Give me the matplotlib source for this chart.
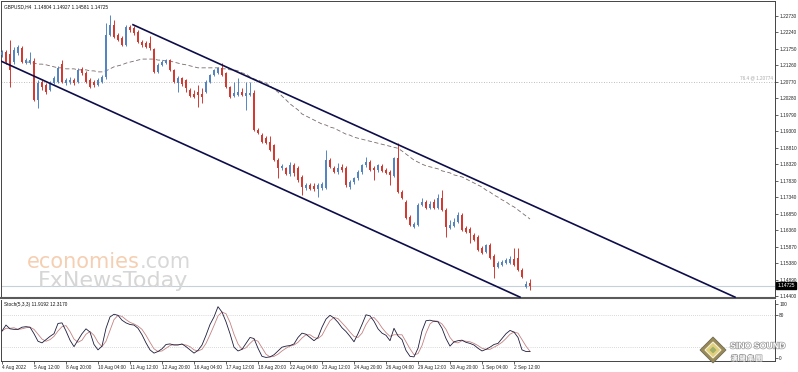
import matplotlib
matplotlib.use("Agg")
import matplotlib.pyplot as plt
import matplotlib.patheffects as pe
from matplotlib.patches import Polygon
from matplotlib.transforms import blended_transform_factory

plt.rcParams["font.family"] = ["Liberation Sans", "DejaVu Sans"]

# GBPUSD H4 candles, 4 Aug 2022 -> 5 Sep 2022
opens = [1.2157, 1.2166, 1.2160, 1.2136, 1.2163, 1.2178, 1.2133, 1.2133, 1.2139, 1.2024,
         1.2077, 1.2068, 1.2053, 1.2074, 1.2077, 1.2130, 1.2074, 1.2077, 1.2083, 1.2077,
         1.2116, 1.2104, 1.2083, 1.2077, 1.2068, 1.2077, 1.2092, 1.2217, 1.2247, 1.2217,
         1.2208, 1.2187, 1.2241, 1.2238, 1.2226, 1.2196, 1.2193, 1.2193, 1.2175, 1.2107,
         1.2128, 1.2133, 1.2142, 1.2113, 1.2074, 1.2089, 1.2083, 1.2053, 1.2041, 1.2047,
         1.2041, 1.2047, 1.2077, 1.2098, 1.2104, 1.2119, 1.2104, 1.2062, 1.2035, 1.2038,
         1.2047, 1.2035, 1.2038, 1.2044, 1.1934, 1.1919, 1.1910, 1.1898, 1.1889, 1.1845,
         1.1822, 1.1822, 1.1804, 1.1831, 1.1822, 1.1795, 1.1762, 1.1771, 1.1768, 1.1759,
         1.1762, 1.1762, 1.1845, 1.1822, 1.1810, 1.1825, 1.1822, 1.1765, 1.1780, 1.1792,
         1.1810, 1.1831, 1.1839, 1.1822, 1.1816, 1.1828, 1.1816, 1.1810, 1.1798, 1.1851,
         1.1750, 1.1721, 1.1676, 1.1646, 1.1652, 1.1712, 1.1721, 1.1703, 1.1721, 1.1703,
         1.1732, 1.1697, 1.1643, 1.1649, 1.1661, 1.1682, 1.1643, 1.1640, 1.1623, 1.1617,
         1.1584, 1.1572, 1.1593, 1.1560, 1.1528, 1.1534, 1.1539, 1.1539, 1.1551, 1.1554,
         1.1519, 1.1468, 1.14804]
highs = [1.2172, 1.2172, 1.2202, 1.2181, 1.2187, 1.2184, 1.2148, 1.2166, 1.2148, 1.2083,
         1.2083, 1.2074, 1.2080, 1.2095, 1.2125, 1.2142, 1.2089, 1.2092, 1.2089, 1.2119,
         1.2122, 1.2110, 1.2089, 1.2083, 1.2089, 1.2098, 1.2253, 1.2277, 1.2262, 1.2223,
         1.2214, 1.2247, 1.2247, 1.2244, 1.2232, 1.2202, 1.2199, 1.2214, 1.2178, 1.2133,
         1.2142, 1.2145, 1.2145, 1.2116, 1.2095, 1.2092, 1.2086, 1.2059, 1.2053, 1.2068,
         1.2059, 1.2083, 1.2101, 1.2116, 1.2122, 1.2133, 1.2107, 1.2065, 1.2077, 1.2089,
         1.2059, 1.2077, 1.2077, 1.2053, 1.1940, 1.1925, 1.1916, 1.1916, 1.1892, 1.1851,
         1.1833, 1.1825, 1.1839, 1.1836, 1.1828, 1.1801, 1.1777, 1.1777, 1.1777, 1.1777,
         1.1780, 1.1875, 1.1851, 1.1828, 1.1836, 1.1834, 1.1828, 1.1786, 1.1795, 1.1816,
         1.1834, 1.1854, 1.1845, 1.1828, 1.1834, 1.1834, 1.1822, 1.1816, 1.1854, 1.1895,
         1.1756, 1.1727, 1.1682, 1.1661, 1.1718, 1.1732, 1.1727, 1.1724, 1.1729, 1.1744,
         1.1756, 1.1703, 1.1667, 1.1673, 1.1691, 1.1688, 1.1649, 1.1646, 1.1628, 1.1623,
         1.1590, 1.1596, 1.1599, 1.1566, 1.1545, 1.1548, 1.1554, 1.1560, 1.1584, 1.1584,
         1.1525, 1.1486, 1.14927]
lows = [1.2151, 1.2130, 1.2062, 1.2130, 1.2157, 1.2133, 1.2130, 1.2130, 1.2021, 1.2000,
        1.2053, 1.2041, 1.2050, 1.2071, 1.2074, 1.2074, 1.2068, 1.2071, 1.2068, 1.2074,
        1.2098, 1.2074, 1.2059, 1.2062, 1.2065, 1.2074, 1.2086, 1.2214, 1.2208, 1.2199,
        1.2184, 1.2184, 1.2226, 1.2217, 1.2193, 1.2181, 1.2178, 1.2172, 1.2104, 1.2104,
        1.2125, 1.2130, 1.2110, 1.2074, 1.2047, 1.2065, 1.2047, 1.2032, 1.2029, 1.2003,
        1.2015, 1.2044, 1.2074, 1.2095, 1.2101, 1.2095, 1.2059, 1.2029, 1.2032, 1.2035,
        1.2035, 1.1994, 1.2035, 1.1931, 1.1922, 1.1895, 1.1892, 1.1872, 1.1842, 1.1792,
        1.1816, 1.1801, 1.1798, 1.1798, 1.1780, 1.1741, 1.1756, 1.1756, 1.1753, 1.1735,
        1.1756, 1.1759, 1.1822, 1.1807, 1.1804, 1.1810, 1.1765, 1.1759, 1.1774, 1.1786,
        1.1804, 1.1825, 1.1813, 1.1786, 1.1810, 1.1810, 1.1804, 1.1771, 1.1795, 1.1747,
        1.1729, 1.1670, 1.1649, 1.1643, 1.1649, 1.1709, 1.1700, 1.1700, 1.1700, 1.1700,
        1.1694, 1.1617, 1.1640, 1.1646, 1.1658, 1.1634, 1.1628, 1.1599, 1.1605, 1.1575,
        1.1566, 1.1569, 1.1551, 1.1495, 1.1525, 1.1531, 1.1536, 1.1536, 1.1531, 1.1516,
        1.1495, 1.1465, 1.14581]
closes = [1.2166, 1.2136, 1.2113, 1.2172, 1.2181, 1.2136, 1.2142, 1.2142, 1.2024, 1.2074,
          1.2062, 1.2047, 1.2074, 1.2089, 1.2119, 1.2077, 1.2083, 1.2083, 1.2074, 1.2113,
          1.2104, 1.2077, 1.2062, 1.2068, 1.2083, 1.2092, 1.2217, 1.2247, 1.2211, 1.2202,
          1.2187, 1.2241, 1.2232, 1.2223, 1.2196, 1.2187, 1.2181, 1.2178, 1.2107, 1.2128,
          1.2136, 1.2142, 1.2113, 1.2077, 1.2089, 1.2071, 1.2059, 1.2035, 1.2032, 1.2038,
          1.2032, 1.2077, 1.2098, 1.2113, 1.2119, 1.2098, 1.2062, 1.2032, 1.2044, 1.2047,
          1.2038, 1.2044, 1.2044, 1.1934, 1.1925, 1.1898, 1.1895, 1.1875, 1.1845, 1.1822,
          1.1828, 1.1804, 1.1831, 1.1807, 1.1786, 1.1765, 1.1771, 1.1759, 1.1759, 1.1771,
          1.1774, 1.1845, 1.1825, 1.1810, 1.1822, 1.1816, 1.1771, 1.1780, 1.1792, 1.1810,
          1.1831, 1.1839, 1.1816, 1.1816, 1.1831, 1.1813, 1.1807, 1.1801, 1.1851, 1.1750,
          1.1732, 1.1673, 1.1652, 1.1655, 1.1712, 1.1721, 1.1703, 1.1715, 1.1703, 1.1732,
          1.1697, 1.1646, 1.1652, 1.1661, 1.1682, 1.1637, 1.1631, 1.1628, 1.1608, 1.1578,
          1.1569, 1.1593, 1.1554, 1.1528, 1.1539, 1.1542, 1.1548, 1.1551, 1.1534, 1.1519,
          1.1498, 1.1477, 1.14725]

# dashed moving average, starts at bar 6
ma_start = 6
ma_values = [1.2136, 1.2136, 1.2133, 1.2130, 1.2130, 1.2128, 1.2125, 1.2122, 1.2119, 1.2119,
             1.2116, 1.2116, 1.2116, 1.2113, 1.2113, 1.2113, 1.2110, 1.2110, 1.2107, 1.2107,
             1.2110, 1.2116, 1.2122, 1.2125, 1.2128, 1.2133, 1.2136, 1.2139, 1.2142, 1.2145,
             1.2145, 1.2145, 1.2145, 1.2142, 1.2142, 1.2139, 1.2139, 1.2136, 1.2133, 1.2130,
             1.2128, 1.2125, 1.2122, 1.2119, 1.2119, 1.2119, 1.2119, 1.2119, 1.2119, 1.2116,
             1.2116, 1.2113, 1.2113, 1.2110, 1.2104, 1.2101, 1.2092, 1.2086, 1.2083, 1.2077,
             1.2074, 1.2065, 1.2056, 1.2047, 1.2035, 1.2024, 1.2012, 1.2003, 1.1994, 1.1982,
             1.1976, 1.1970, 1.1964, 1.1958, 1.1952, 1.1949, 1.1943, 1.1940, 1.1934, 1.1928,
             1.1922, 1.1919, 1.1913, 1.1910, 1.1907, 1.1904, 1.1901, 1.1898, 1.1895, 1.1892,
             1.1889, 1.1886, 1.1883, 1.1880, 1.1872, 1.1863, 1.1854, 1.1845, 1.1839, 1.1833,
             1.1828, 1.1825, 1.1822, 1.1819, 1.1813, 1.1810, 1.1807, 1.1801, 1.1798, 1.1795,
             1.1789, 1.1783, 1.1777, 1.1771, 1.1765, 1.1756, 1.1750, 1.1741, 1.1735, 1.1727,
             1.1721, 1.1712, 1.1706, 1.1697, 1.1688, 1.1679, 1.1670]

stoch_main = [50, 61, 54, 53, 53, 57, 58, 57, 45, 31,
              28, 34, 40, 45, 64, 65, 50, 33, 21, 33,
              45, 54, 48, 25, 15, 22, 55, 76, 81, 79,
              70, 65, 62, 61, 55, 43, 28, 15, 9, 12,
              17, 25, 26, 24, 24, 26, 21, 15, 9, 14,
              24, 42, 62, 76, 95, 85, 67, 45, 20, 13,
              16, 27, 38, 36, 18, 3, 1, 2, 6, 13,
              20, 22, 23, 26, 38, 46, 44, 38, 32, 38,
              57, 72, 79, 74, 66, 56, 49, 40, 30, 45,
              62, 80, 78, 68, 54, 46, 42, 32, 55, 41,
              34, 14, 3, 2, 18, 50, 69, 70, 68, 67,
              55, 36, 22, 30, 32, 33, 29, 27, 24, 18,
              13, 16, 20, 25, 27, 36, 45, 51, 48, 38,
              15, 12, 11.92]
stoch_signal = [50, 55, 55, 56, 53, 54, 56, 57, 53, 44,
                35, 31, 34, 40, 50, 58, 60, 49, 35, 29,
                33, 44, 49, 42, 29, 21, 31, 51, 71, 79,
                77, 71, 66, 63, 59, 53, 42, 29, 17, 12,
                13, 18, 23, 25, 25, 25, 24, 21, 15, 13,
                16, 27, 43, 60, 78, 85, 82, 66, 44, 26,
                16, 19, 27, 34, 31, 19, 7, 2, 3, 7,
                13, 18, 22, 24, 29, 37, 43, 43, 38, 36,
                42, 56, 69, 75, 73, 65, 57, 48, 40, 38,
                46, 62, 73, 75, 67, 56, 47, 40, 43, 43,
                43, 30, 17, 6, 8, 23, 46, 63, 69, 68,
                63, 53, 38, 29, 28, 32, 31, 30, 27, 23,
                18, 16, 16, 20, 24, 29, 36, 44, 48, 46,
                34, 22, 12.32]

time_labels = ["4 Aug 2022", "5 Aug 12:00", "8 Aug 20:00", "10 Aug 04:00", "11 Aug 12:00",
               "12 Aug 20:00", "16 Aug 04:00", "17 Aug 12:00", "18 Aug 20:00", "22 Aug 04:00",
               "23 Aug 12:00", "24 Aug 20:00", "26 Aug 04:00", "29 Aug 12:00", "30 Aug 20:00",
               "1 Sep 04:00", "2 Sep 12:00"]
label_step = 8
price_ticks = [1.22730, 1.22240, 1.21750, 1.21260, 1.20770, 1.20280, 1.19790, 1.19300, 1.18810,
               1.18320, 1.17830, 1.17340, 1.16850, 1.16360, 1.15870, 1.15380, 1.14890, 1.14400]
stoch_ticks = [0, 20, 80, 100]

# channel lines: (bar index, price) endpoints
upper_x, upper_y = [32.75, 183.25], [1.2247, 1.1438]
lower_x, lower_y = [-0.25, 129.5], [1.2139, 1.1438]
fib_level = 1.20774
bid = 1.14725

W, H = 798, 372
BULL, BEAR = "#5585c0", "#d23a32"
FS = 3.4


def box(l, t, r, b):
    return [l / W, 1 - b / H, (r - l) / W, (b - t) / H]


fig = plt.figure(figsize=(W / 100, H / 100), dpi=100)
ax = fig.add_axes(box(1, 1, 775, 298))
ax2 = fig.add_axes(box(1, 300, 775, 361))

xs = list(range(len(closes)))
for i in xs:
    o, h, l, c = opens[i], highs[i], lows[i], closes[i]
    col = BULL if c >= o else BEAR
    ax.vlines(i, l, h, color=col, lw=0.7, zorder=3)
    ax.bar(i, max(abs(c - o), 0.00012), bottom=min(o, c), width=0.72,
           color=col, linewidth=0, zorder=4)

ax.plot(range(ma_start, ma_start + len(ma_values)), ma_values, color="#7a6a6a",
        lw=0.6, dashes=(5, 3), zorder=2)
ax.plot(upper_x, upper_y, color="#0d0d4a", lw=1.2, zorder=5)
ax.plot(lower_x, lower_y, color="#0d0d4a", lw=1.2, zorder=5)
ax.axhline(fib_level, color="#a8a8a8", lw=0.6, ls=(0, (1, 2)), zorder=1)
ax.axhline(bid, color="#c6d0da", lw=0.8, zorder=1)

ax.set_xlim(-0.25, 193.25)
ax.set_ylim(1.14354, 1.23175)
ax.set_xticks([])
ax.yaxis.tick_right()
ax.set_yticks(price_ticks)
ax.set_yticklabels(["%.5f" % p for p in price_ticks])
ax.tick_params(axis="y", labelsize=FS, length=2, width=0.5, pad=1, colors="#222222")

tr = blended_transform_factory(ax.transAxes, ax.transData)
ax.text(1.003, bid, "%.5f" % bid, transform=tr, fontsize=FS, color="white", va="center",
        ha="left", bbox=dict(boxstyle="square,pad=0.2", fc="black", ec="black"), clip_on=False)
ax.text(0.998, fib_level + 0.0004, "76.4 @ %.5f" % fib_level, transform=tr, fontsize=3.3,
        color="#a8a8a8", ha="right", va="bottom")
ax.text(0.004, 0.99, "GBPUSD,H4  1.14804 1.14927 1.14581 1.14725", transform=ax.transAxes,
        fontsize=FS, va="top", ha="left", color="#111111")

# watermark
wm = ["DejaVu Sans"]
fig.text(27 / W, 1 - 268 / H, "economies", fontsize=15, color="#f5cfb2", va="baseline",
         family=wm)
fig.text(140 / W, 1 - 268 / H, ".com", fontsize=15, color="#d8d8d8", va="baseline", family=wm)
fig.text(38 / W, 1 - 287 / H, "FxNewsToday", fontsize=16, color="#d6d6d6", va="baseline",
         family=wm)

ax2.plot(xs, stoch_signal, color="#c48282", lw=0.6, zorder=2)
ax2.plot(xs, stoch_main, color="#1c1c3c", lw=0.6, zorder=3)
for lvl in (20, 80):
    ax2.axhline(lvl, color="#b5b5b5", lw=0.5, ls=(0, (1, 2)))
ax2.set_xlim(-0.25, 193.25)
ax2.set_ylim(-5.6, 107.4)
ax2.yaxis.tick_right()
ax2.set_yticks(stoch_ticks)
ax2.set_yticklabels([str(v) for v in stoch_ticks])
ax2.tick_params(axis="y", labelsize=FS, length=2, width=0.5, pad=1, colors="#222222")
ax2.set_xticks([k * label_step for k in range(len(time_labels))])
ax2.set_xticklabels(time_labels)
for lab in ax2.get_xticklabels():
    lab.set_horizontalalignment("left")
ax2.tick_params(axis="x", labelsize=FS, length=2, width=0.5, pad=1, colors="#222222")
ax2.text(0.004, 0.96, "Stoch(5,3,3) 11.9192 12.3170", transform=ax2.transAxes,
         fontsize=FS, va="top", ha="left", color="#111111")

for a in (ax, ax2):
    for s in a.spines.values():
        s.set_color("#444444")
        s.set_linewidth(0.7)
ax.spines["bottom"].set_linewidth(1.5)
ax.spines["bottom"].set_color("#5a5a5a")
ax2.spines["top"].set_visible(False)

# SINO SOUND logo, lower right
cx, cy, r = 713, 350, 13
outer = [(cx - r, cy), (cx, cy - r), (cx + r, cy), (cx, cy + r)]
fig.patches.append(Polygon([(x / W, 1 - y / H) for x, y in outer], closed=True,
                           transform=fig.transFigure, fc="#9a8a55", ec="#6e6a5a", lw=0.6))
r2 = 8
mid = [(cx - r2, cy), (cx, cy - r2), (cx + r2, cy), (cx, cy + r2)]
fig.patches.append(Polygon([(x / W, 1 - y / H) for x, y in mid], closed=True,
                           transform=fig.transFigure, fc="#e2cf7a", ec="#f0f0e0", lw=0.8))
r3 = 3.5
inner = [(cx - r3, cy), (cx, cy - r3), (cx + r3, cy), (cx, cy + r3)]
fig.patches.append(Polygon([(x / W, 1 - y / H) for x, y in inner], closed=True,
                           transform=fig.transFigure, fc="#9fb06a", ec="none"))
stroke = [pe.withStroke(linewidth=1.0, foreground="#9a9a9a")]
fig.text(730 / W, 1 - 346 / H, "SINO SOUND", fontsize=6.3, fontweight="bold", color="white",
         va="center", ha="left", path_effects=stroke)
fig.text(731 / W, 1 - 358 / H, "漢 聲 集 團", fontsize=4.8, color="white", va="center",
         ha="left", family=["Noto Sans CJK TC", "DejaVu Sans"], fontweight="bold",
         path_effects=stroke)

fig.savefig("out.png", dpi=100, facecolor="white")
